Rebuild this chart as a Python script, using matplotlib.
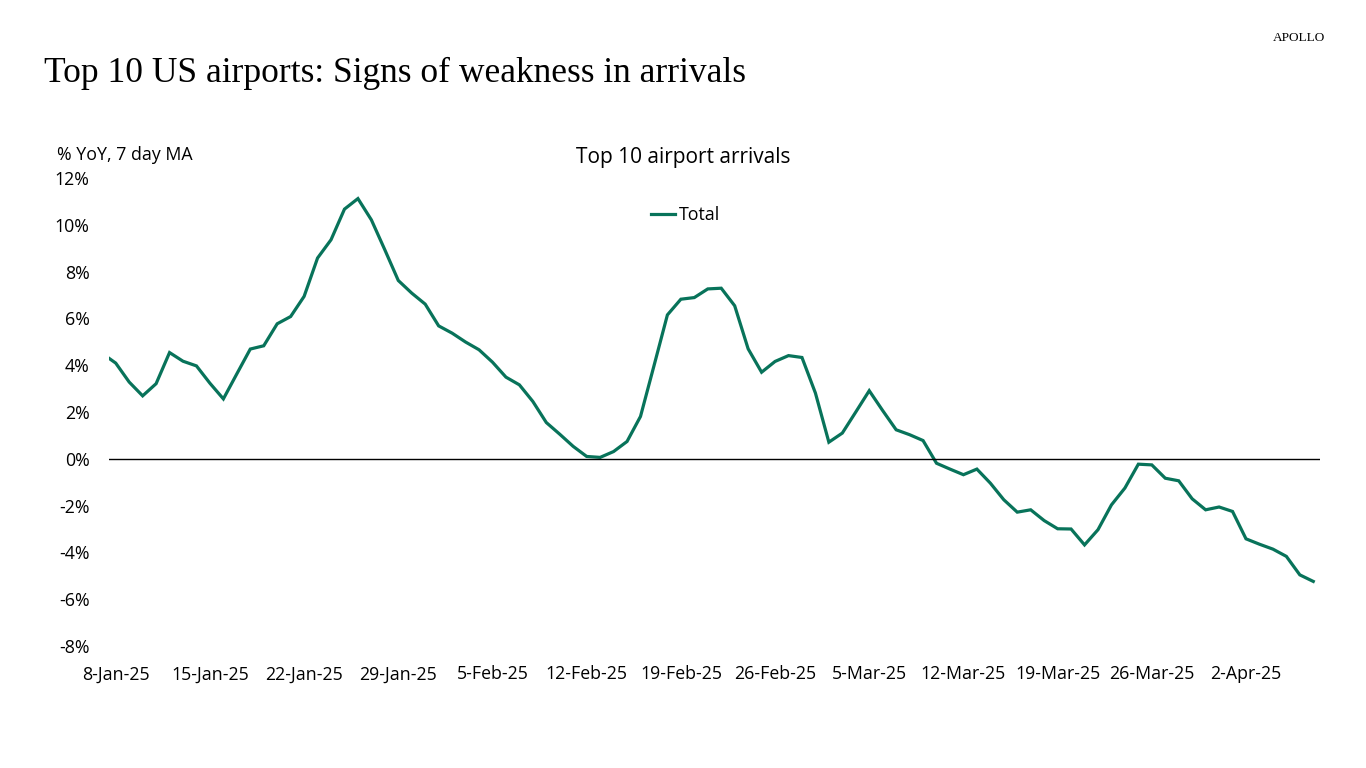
import matplotlib
matplotlib.use('Agg')
import matplotlib.pyplot as plt
import matplotlib.dates as mdates
import pandas as pd

# daily data, 7-Jan-25 .. 7-Apr-25 (% YoY, 7 day MA)
dates = pd.date_range('2025-01-07', '2025-04-07', freq='D')
total = [4.50,
         4.09, 3.28, 2.69, 3.21, 4.54, 4.17, 3.97, 3.23, 2.56, 3.63,
         4.69, 4.83, 5.77, 6.08, 6.94, 8.58, 9.36, 10.67, 11.12, 10.21,
         8.93, 7.62, 7.08, 6.61, 5.68, 5.37, 4.99, 4.66, 4.13, 3.49,
         3.16, 2.45, 1.55, 1.05, 0.53, 0.10, 0.06, 0.31, 0.74, 1.81,
         3.97, 6.15, 6.82, 6.89, 7.26, 7.29, 6.54, 4.70, 3.70, 4.16,
         4.41, 4.33, 2.81, 0.71, 1.10, 2.00, 2.91, 2.06, 1.24, 1.03,
         0.78, -0.19, -0.44, -0.68, -0.44, -1.04, -1.75, -2.28, -2.18, -2.64,
         -2.99, -3.00, -3.68, -3.03, -1.97, -1.25, -0.23, -0.26, -0.83, -0.94,
         -1.71, -2.18, -2.06, -2.25, -3.42, -3.65, -3.86, -4.17, -4.96, -5.24]
tick_dates = pd.date_range('2025-01-08', '2025-04-02', freq='7D')
y_ticks = [-8, -6, -4, -2, 0, 2, 4, 6, 8, 10, 12]

green = '#08735a'
sans = 'Open Sans'
serif = 'Liberation Serif'
fs = 12.8

fig = plt.figure(figsize=(13.66, 7.68), dpi=100)
ax = fig.add_axes([109 / 1366, 1 - 646 / 768, 1211 / 1366, 468 / 768])

ax.plot(dates, total, color=green, lw=2.3, label='Total', solid_joinstyle='miter')
ax.axhline(0, color='black', lw=1)

ax.set_xlim(pd.Timestamp('2025-01-07 12:00'), pd.Timestamp('2025-04-07 12:00'))
ax.set_ylim(-8, 12)
ax.set_xticks(tick_dates)
ax.xaxis.set_major_formatter(mdates.DateFormatter('%-d-%b-%y'))
ax.set_yticks(y_ticks)
ax.set_yticklabels([f'{v}%' for v in y_ticks])
ax.tick_params(axis='both', length=0, labelsize=fs)
ax.tick_params(axis='x', pad=14)
ax.tick_params(axis='y', pad=14)
for lab in ax.get_xticklabels() + ax.get_yticklabels():
    lab.set_fontfamily(sans)
for s in ax.spines.values():
    s.set_visible(False)

ax.legend(loc='center', bbox_to_anchor=(0.476, 0.921), frameon=False,
          handlelength=1.4, handletextpad=0.2, prop={'family': sans, 'size': fs})

fig.text(44 / 1366, 1 - 73 / 768, 'Top 10 US airports: Signs of weakness in arrivals',
         family=serif, fontsize=25.5, va='center', ha='left')
fig.text(1325 / 1366, 1 - 38 / 768, 'APOLLO', family=serif, fontsize=9.5,
         va='center', ha='right')
fig.text(57 / 1366, 1 - 155 / 768, '% YoY, 7 day MA', family=sans, fontsize=fs,
         va='center', ha='left')
fig.text(0.5, 1 - 158 / 768, 'Top 10 airport arrivals', family=sans, fontsize=15,
         va='center', ha='center')

fig.savefig('out.png', dpi=100)
